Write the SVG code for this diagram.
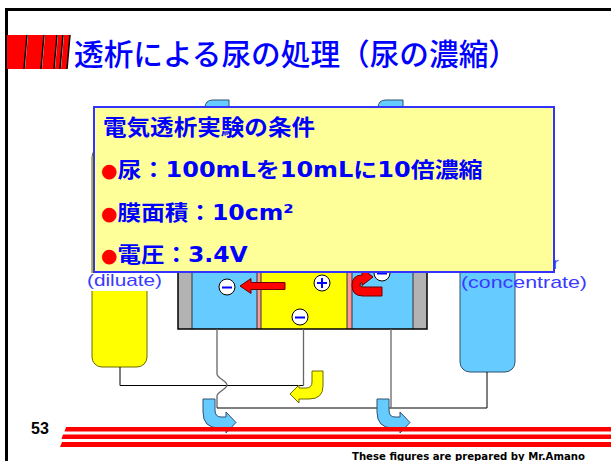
<svg xmlns="http://www.w3.org/2000/svg" width="611" height="461" viewBox="0 0 611 461">
  <style>
    .frame{fill:none;stroke:#000;stroke-width:3}
    .wire{fill:none;stroke:#000;stroke-width:1}
    .lead{fill:none;stroke:#666;stroke-width:1.3}
    .ion{fill:#fff;stroke:#000;stroke-width:1}
    .sign{fill:none;stroke:#0000ff;stroke-width:2}
    .blue{fill:#66ccff;stroke:#2f4f6f;stroke-width:1}
    .yel{fill:#ffff00;stroke:#6b6b00;stroke-width:1}
    .red{fill:#ff0000;stroke:#600;stroke-width:1}
    .lbl{font-family:"Liberation Sans",Arial,sans-serif;font-size:17px;fill:#3a3aff}
    .cond{font-family:"DejaVu Sans","Noto Sans CJK JP",sans-serif;font-weight:bold;fill:#0000ff}
    .dot{font-family:"DejaVu Sans",sans-serif;font-weight:normal;font-size:19px;fill:#ff0000}
  </style>

  <!-- slide frame -->
  <path class="frame" d="M6.5,461 V9.5 H611"/>

  <!-- title decoration and heading -->
  <g id="title">
    <g fill="#ff0000">
      <polygon points="7,35 27,35 24,69 7,69"/>
      <polygon points="28,35 44,35 41,69 25,69"/>
      <polygon points="45,35 57,35 54,69 42,69"/>
      <polygon points="58,35 63,35 60,69 55,69"/>
      <polygon points="64,35 70,35 67,69 61,69"/>
    </g>
    <g stroke="#000" stroke-width="1.5">
      <line x1="27" y1="35" x2="24" y2="69"/>
      <line x1="44" y1="35" x2="41" y2="69"/>
      <line x1="57" y1="35" x2="54" y2="69"/>
      <line x1="63" y1="35" x2="60" y2="69"/>
      <line x1="70" y1="35" x2="67" y2="69"/>
    </g>
    <text x="74" y="65" font-family="'Noto Sans CJK JP',sans-serif" font-weight="500" font-size="30" fill="#0000ff" textLength="444" lengthAdjust="spacingAndGlyphs">透析による尿の処理（尿の濃縮）</text>
  </g>

  <!-- reservoirs -->
  <g id="diluate-tank">
    <rect class="yel" x="92" y="147" width="55" height="220" rx="10"/>
  </g>
  <g id="concentrate-tank">
    <rect class="blue" x="460" y="200" width="55" height="172" rx="10"/>
  </g>

  <!-- inlet tubes above the cell -->
  <g id="inlets">
    <path class="blue" d="M205,130 V108 Q205,100 213,100 H229 V130 Z"/>
    <path class="blue" d="M378,130 V108 Q378,100 386,100 H403 V130 Z"/>
  </g>

  <!-- electrodialysis cell -->
  <g id="cell">
    <rect x="178" y="230" width="14" height="99" fill="#b3b3b3"/>
    <rect x="192" y="230" width="65" height="99" fill="#66ccff"/>
    <rect x="257" y="230" width="4" height="99" fill="#ff9999"/>
    <rect x="261" y="230" width="86" height="99" fill="#ffff00"/>
    <rect x="347" y="230" width="5" height="99" fill="#ff9999"/>
    <rect x="352" y="230" width="61" height="99" fill="#66ccff"/>
    <rect x="413" y="230" width="14" height="99" fill="#b3b3b3"/>
    <g fill="none" stroke="#333" stroke-width="1">
      <line x1="192" y1="230" x2="192" y2="329"/>
      <line x1="257" y1="230" x2="257" y2="329"/>
      <line x1="261" y1="230" x2="261" y2="329"/>
      <line x1="347" y1="230" x2="347" y2="329"/>
      <line x1="352" y1="230" x2="352" y2="329"/>
      <line x1="413" y1="230" x2="413" y2="329"/>
    </g>
    <rect x="178" y="230" width="249" height="99" fill="none" stroke="#000" stroke-width="1.5"/>
  </g>

  <!-- ions -->
  <g id="ion-left">
    <circle class="ion" cx="227" cy="287" r="8"/>
    <line class="sign" x1="222" y1="287.5" x2="232" y2="287.5"/>
  </g>
  <g id="ion-plus">
    <circle class="ion" cx="322" cy="283" r="8"/>
    <path class="sign" d="M317,283 H327 M322,278 V288"/>
  </g>
  <g id="ion-mid">
    <circle class="ion" cx="300" cy="317" r="8"/>
    <line class="sign" x1="295" y1="317.5" x2="305" y2="317.5"/>
  </g>
  <g id="ion-right">
    <circle class="ion" cx="382" cy="273" r="8"/>
    <line class="sign" x1="377" y1="273.5" x2="387" y2="273.5"/>
  </g>

  <!-- ion movement arrows -->
  <g id="move-left">
    <path class="red" d="M240,286 L251,278.5 V282.5 H285 V289.5 H251 V293.5 Z"/>
  </g>
  <g id="move-hook">
    <path class="red" d="M382,287 V296 H363 Q352,296 352,285.5 Q352,275 362,275 V268 L373,277 L362,285.5 V282.5 Q360,282.5 360,285 Q360,287 363,287 Z"/>
  </g>

  <!-- piping between cell and tanks -->
  <g id="connectors">
    <path class="wire" d="M120,367 V385.5 H303.5"/>
    <path class="lead" d="M303.5,385.5 V329"/>
    <path class="lead" d="M217,329 V374 C217,378 227,381 227,385 C227,389 217,392 217,396 V408"/>
    <path class="wire" d="M217,408 H487 V372"/>
    <path class="lead" d="M391,329 V408"/>
  </g>

  <!-- flow arrows -->
  <g id="flow-yellow">
    <path class="yel" d="M323,371 V386 Q323,399 309,399 H299 V403 L290,394 L299,385 V388 H306 Q312,388 312,382 V371 Z"/>
  </g>
  <g id="flow-blue-1">
    <path class="blue" d="M203,399 H215 V410 Q215,417 221,417 H226 V412 L236,422.5 L226,433 V428 H219 Q203,428 203,412 Z"/>
  </g>
  <g id="flow-blue-2">
    <path class="blue" d="M377,399 H389 V410 Q389,417 395,417 H400 V412 L410,422.5 L400,433 V428 H393 Q377,428 377,412 Z"/>
  </g>

  <!-- partly covered tank label -->
  <text class="lbl" x="553" y="269">r</text>

  <!-- experiment conditions -->
  <g id="conditions">
    <rect x="94" y="107" width="460" height="165" fill="#ffff99" stroke="#3333ff" stroke-width="2"/>
    <text class="cond" x="103" y="135" font-size="22" textLength="212" lengthAdjust="spacingAndGlyphs">電気透析実験の条件</text>
    <text class="cond" x="101" y="177" font-size="21"><tspan class="dot">●</tspan><tspan textLength="365" lengthAdjust="spacingAndGlyphs">尿：100mLを10mLに10倍濃縮</tspan></text>
    <text class="cond" x="101" y="220" font-size="21"><tspan class="dot">●</tspan><tspan textLength="176" lengthAdjust="spacingAndGlyphs">膜面積：10cm²</tspan></text>
    <text class="cond" x="101" y="262" font-size="21"><tspan class="dot">●</tspan><tspan textLength="130" lengthAdjust="spacingAndGlyphs">電圧：3.4V</tspan></text>
  </g>

  <!-- tank labels -->
  <g id="label-diluate">
    <rect x="88" y="273" width="74" height="18" fill="#fff"/>
    <text class="lbl" x="87" y="286" textLength="75" lengthAdjust="spacingAndGlyphs">(diluate)</text>
  </g>
  <g id="label-concentrate">
    <text class="lbl" x="461" y="288" textLength="126" lengthAdjust="spacingAndGlyphs">(concentrate)</text>
  </g>

  <!-- footer -->
  <g id="footer">
    <text x="31" y="434" font-family="'Liberation Sans',Arial,sans-serif" font-weight="bold" font-size="16" fill="#000">53</text>
    <g fill="#ff0000">
      <polygon points="66,427 611,427 611,431.5 64.5,431.5"/>
      <polygon points="63,434.5 611,434.5 611,439 61.5,439"/>
      <polygon points="62,442 611,442 611,447 60,447"/>
    </g>
    <text x="352" y="460" font-family="'DejaVu Sans',Verdana,sans-serif" font-weight="bold" font-size="10.5" fill="#000" textLength="233" lengthAdjust="spacingAndGlyphs">These figures are prepared by Mr.Amano</text>
  </g>
</svg>
